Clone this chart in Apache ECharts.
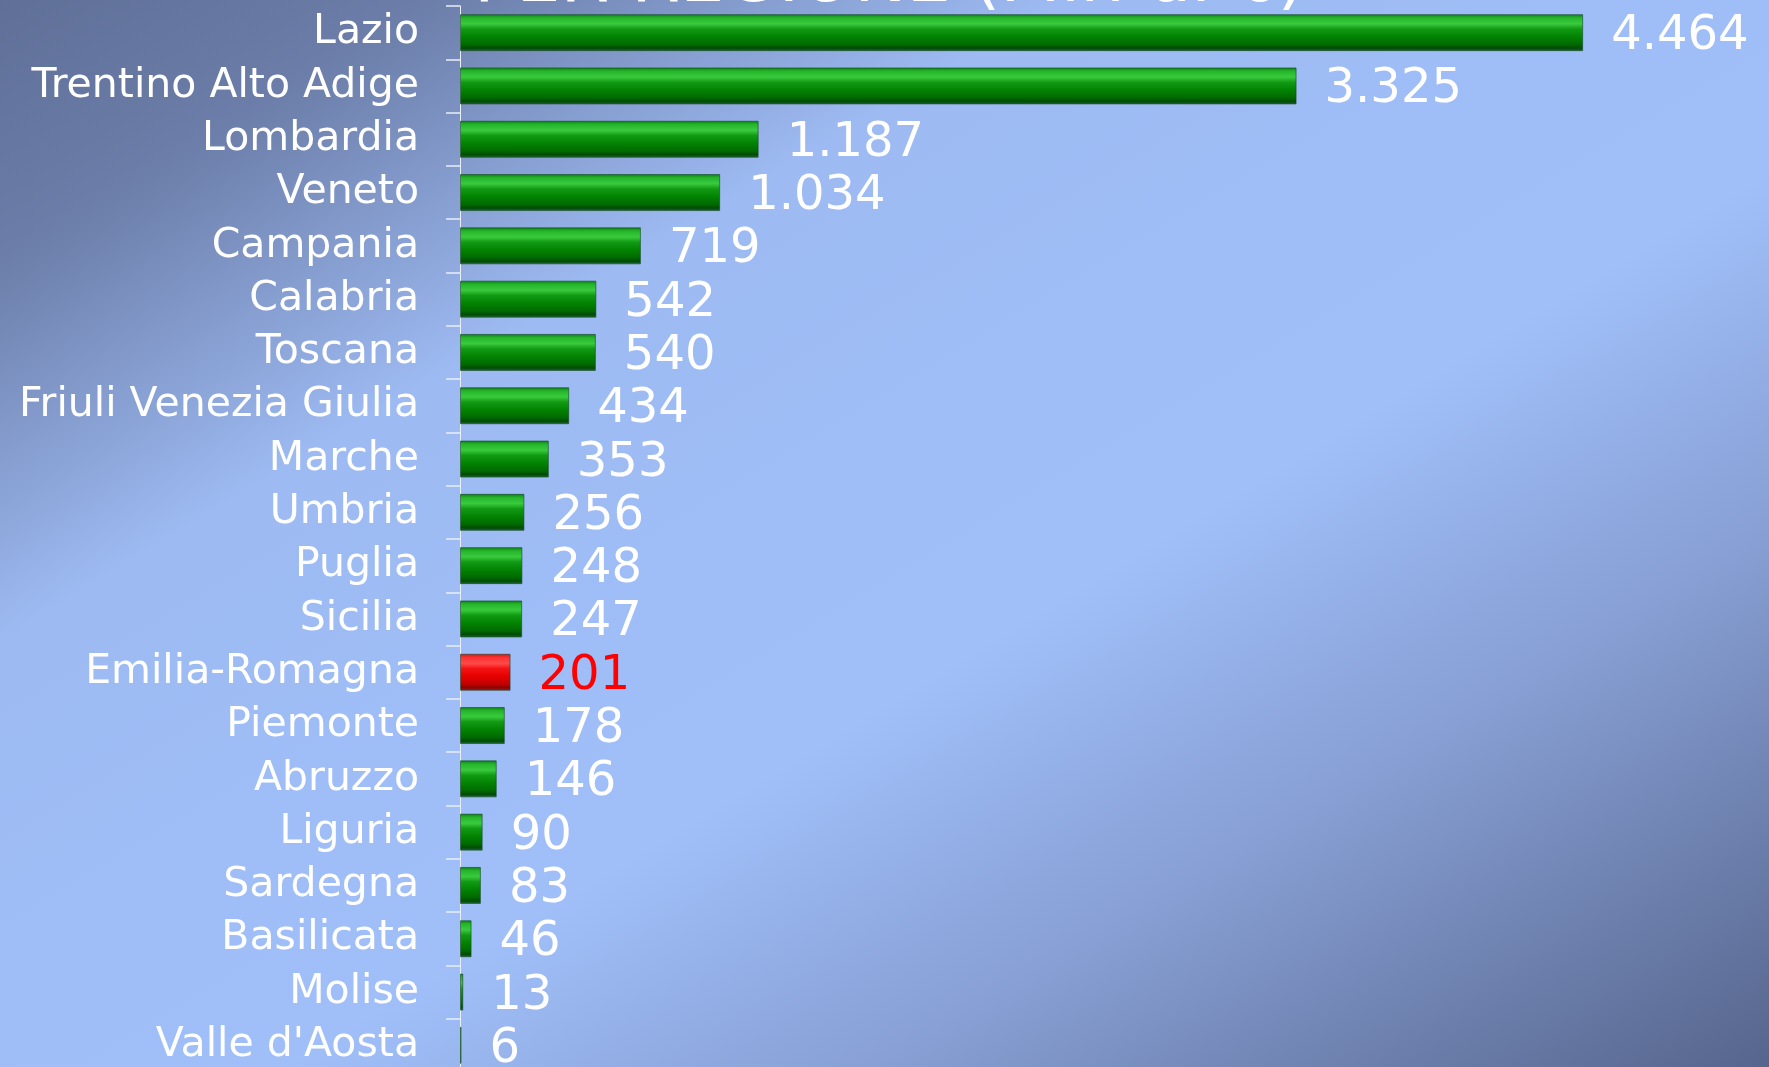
<!DOCTYPE html>
<html lang="it">
<head>
    <meta charset="UTF-8">
    <title>Per regione (Mln di €)</title>
    <script src="https://cdn.jsdelivr.net/npm/echarts@6.0.0/dist/echarts.min.js"></script>
    <style>
        html, body { margin: 0; padding: 0; overflow: hidden; }
        /* il grafico originale è tagliato in basso: il div è più alto della finestra */
        #main { width: 1769px; height: 1080px; }
    </style>
</head>
<body>
    <div id="main"></div>
<script>
    // dati
    var regioni = ['Lazio', 'Trentino Alto Adige', 'Lombardia', 'Veneto', 'Campania', 'Calabria',
        'Toscana', 'Friuli Venezia Giulia', 'Marche', 'Umbria', 'Puglia', 'Sicilia',
        'Emilia-Romagna', 'Piemonte', 'Abruzzo', 'Liguria', 'Sardegna', 'Basilicata',
        'Molise', "Valle d'Aosta"];
    var valori = [4464, 3325, 1187, 1034, 719, 542, 540, 434, 353, 256, 248, 247,
        201, 178, 146, 90, 83, 46, 13, 6];
    var evidenziata = 'Emilia-Romagna';
    var titolo = 'PER REGIONE (Mln di €)';

    var font = 'DejaVu Sans';

    // barre "smussate" verdi e rossa
    var verde = new echarts.graphic.LinearGradient(0, 0, 0, 1, [
        { offset: 0, color: '#0b7a12' },
        { offset: 0.1, color: '#25b52a' },
        { offset: 0.26, color: '#3aca3e' },
        { offset: 0.4, color: '#129a14' },
        { offset: 0.6, color: '#038403' },
        { offset: 0.82, color: '#006a00' },
        { offset: 0.92, color: '#004a08' },
        { offset: 1, color: '#236f2e' }
    ]);
    var rosso = new echarts.graphic.LinearGradient(0, 0, 0, 1, [
        { offset: 0, color: '#d81010' },
        { offset: 0.1, color: '#ff3030' },
        { offset: 0.26, color: '#ff4a4a' },
        { offset: 0.4, color: '#f41414' },
        { offset: 0.6, color: '#e80000' },
        { offset: 0.82, color: '#c20000' },
        { offset: 0.92, color: '#8a0000' },
        { offset: 1, color: '#a82222' }
    ]);

    function formatta(v) {
        return String(v).replace(/\B(?=(\d{3})+(?!\d))/g, '.');
    }

    var dati = valori.map(function (v, i) {
        var hl = regioni[i] === evidenziata;
        return {
            value: v,
            itemStyle: { color: hl ? rosso : verde },
            label: { color: hl ? '#ff0000' : '#ffffff' }
        };
    });

    var chart = echarts.init(document.getElementById('main'));

    var option = {
        backgroundColor: new echarts.graphic.LinearGradient(412, -249, 1356, 1316, [
            { offset: 0, color: '#5f6f98' },
            { offset: 0.12, color: '#6b7da8' },
            { offset: 0.3, color: '#9dbaf2' },
            { offset: 0.58, color: '#a0bff9' },
            { offset: 0.75, color: '#879fd4' },
            { offset: 1, color: '#56658c' }
        ], true),
        animation: false,
        graphic: [{
            type: 'text',
            left: 474,
            top: -52,
            style: {
                text: titolo,
                fill: '#ffffff',
                font: '70px "DejaVu Sans"'
            }
        }],
        grid: {
            left: 460,
            top: 6,
            width: 1258,
            height: 1066
        },
        xAxis: {
            type: 'value',
            min: 0,
            max: 5000,
            show: false
        },
        yAxis: {
            type: 'category',
            inverse: true,
            data: regioni,
            axisLine: { show: true, lineStyle: { color: '#e8eef8', width: 1 } },
            axisTick: { show: true, interval: 0, length: 14, lineStyle: { color: '#e8eef8', width: 1.5 } },
            axisLabel: {
                interval: 0,
                margin: 41,
                padding: [8, 0, 0, 0],
                color: '#ffffff',
                fontFamily: font,
                fontSize: 41
            }
        },
        series: [{
            type: 'bar',
            data: dati,
            barWidth: 37,
            itemStyle: {
                borderColor: 'rgba(20,70,40,0.6)',
                borderWidth: 1
            },
            label: {
                show: true,
                position: 'right',
                distance: 28,
                offset: [0, 4],
                fontFamily: font,
                fontSize: 48,
                formatter: function (p) { return formatta(p.value); }
            }
        }]
    };

    chart.setOption(option);
</script>
</body>
</html>
